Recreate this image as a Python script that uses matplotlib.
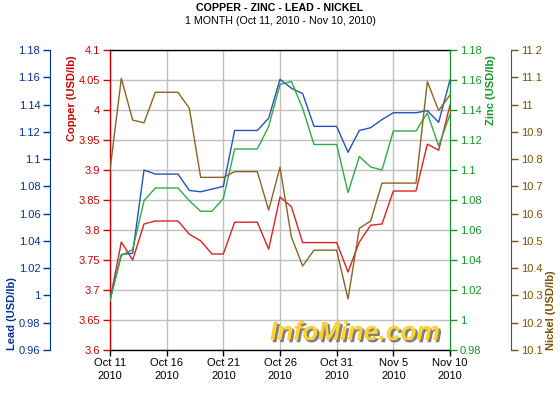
import numpy as np
import pandas as pd
import matplotlib
matplotlib.use('Agg')
import matplotlib.pyplot as plt
import matplotlib.patheffects as pe

plt.rcParams['font.family'] = ['Liberation Sans', 'DejaVu Sans']

# daily values Oct 11 .. Nov 10, 2010 (weekends carry the previous value)
dates = pd.date_range('2010-10-11', '2010-11-10', freq='D')
copper = [3.683, 3.78, 3.75, 3.81, 3.815, 3.815, 3.815, 3.793, 3.782, 3.76, 3.76,
          3.813, 3.813, 3.813, 3.768, 3.855, 3.839, 3.779, 3.779, 3.779, 3.779,
          3.73, 3.78, 3.808, 3.81, 3.865, 3.865, 3.865, 3.943, 3.933, 4.008]
lead = [0.997, 1.030, 1.031, 1.092, 1.089, 1.089, 1.089, 1.077, 1.076, 1.078, 1.080,
        1.121, 1.121, 1.121, 1.130, 1.1585, 1.152, 1.148, 1.124, 1.124, 1.124,
        1.105, 1.121, 1.123, 1.129, 1.134, 1.134, 1.134, 1.1355, 1.127, 1.158]
zinc = [1.013, 1.043, 1.047, 1.0795, 1.088, 1.088, 1.088, 1.0795, 1.0725, 1.0725, 1.081,
        1.114, 1.114, 1.114, 1.129, 1.157, 1.159, 1.141, 1.117, 1.117, 1.117,
        1.085, 1.109, 1.102, 1.100, 1.126, 1.126, 1.126, 1.138, 1.116, 1.137]
nickel = [10.76, 11.096, 10.943, 10.933, 11.045, 11.045, 11.045, 10.986, 10.733, 10.733, 10.733,
          10.754, 10.754, 10.754, 10.613, 10.77, 10.515, 10.408, 10.466, 10.466, 10.466,
          10.287, 10.546, 10.573, 10.712, 10.712, 10.712, 10.712, 11.084, 10.978, 11.035]

tick_dates = pd.to_datetime(['2010-10-11', '2010-10-16', '2010-10-21', '2010-10-26',
                             '2010-10-31', '2010-11-05', '2010-11-10'])
tick_labels = ['Oct 11\n2010', 'Oct 16\n2010', 'Oct 21\n2010', 'Oct 26\n2010',
               'Oct 31\n2010', 'Nov 5\n2010', 'Nov 10\n2010']

c_copper, c_copper_line = '#cc0000', '#dd2222'
c_lead, c_lead_line = '#003399', '#2255bb'
c_zinc, c_zinc_line = '#119922', '#33aa44'
c_nickel, c_nickel_line = '#7a5200', '#8a6420'

fs = 8

fig = plt.figure(figsize=(5.6, 4.0), dpi=100)
ax = fig.add_axes([110/560, 50/400, 340/560, 300/400])

def fmt(v):
    return '{:g}'.format(round(v, 3))

### copper (main axis)
ax.plot(dates, copper, color=c_copper_line, lw=1.0, zorder=4)
ax.set_ylim(3.6, 4.1)
cticks = np.round(np.arange(3.6, 4.1001, 0.05), 3)
ax.set_yticks(cticks)
ax.set_yticklabels([fmt(v) for v in cticks])
ax.set_xlim(dates[0], dates[-1])
ax.set_xticks(tick_dates)
ax.set_xticklabels(tick_labels, fontsize=fs, linespacing=1.35)
ax.tick_params(axis='y', colors=c_copper, labelsize=fs, length=5, width=1, pad=2)
ax.tick_params(axis='x', colors='black', labelsize=fs, length=4, width=1, pad=2)
ax.grid(True, color='#c0c0c0', lw=1)
ax.set_axisbelow(True)
ax.spines['left'].set_color(c_copper)
ax.spines['right'].set_visible(False)
for s in ax.spines.values():
    s.set_linewidth(1)

### lead (left, offset)
ax_lead = ax.twinx()
ax_lead.plot(dates, lead, color=c_lead_line, lw=1.0, zorder=3)
ax_lead.set_ylim(0.96, 1.18)
lticks = np.round(np.arange(0.96, 1.1801, 0.02), 3)
ax_lead.set_yticks(lticks)
ax_lead.set_yticklabels([fmt(v) for v in lticks])
ax_lead.yaxis.set_ticks_position('left')
ax_lead.spines['left'].set_position(('axes', (50 - 110) / 340))
ax_lead.spines['left'].set_visible(True)
ax_lead.spines['left'].set_color(c_lead)
for k in ['right', 'top', 'bottom']:
    ax_lead.spines[k].set_visible(False)
ax_lead.tick_params(axis='y', colors=c_lead, labelsize=fs, length=5, width=1, pad=2)

### zinc (right)
ax_zinc = ax.twinx()
ax_zinc.plot(dates, zinc, color=c_zinc_line, lw=1.0, zorder=2)
ax_zinc.set_ylim(0.98, 1.18)
zticks = np.round(np.arange(0.98, 1.1801, 0.02), 3)
ax_zinc.set_yticks(zticks)
ax_zinc.set_yticklabels([fmt(v) for v in zticks])
ax_zinc.spines['right'].set_color(c_zinc)
for k in ['left', 'top', 'bottom']:
    ax_zinc.spines[k].set_visible(False)
ax_zinc.tick_params(axis='y', colors=c_zinc, labelsize=fs, length=5, width=1, pad=2)

### nickel (right, offset)
ax_ni = ax.twinx()
ax_ni.plot(dates, nickel, color=c_nickel_line, lw=1.0, zorder=1)
ax_ni.set_ylim(10.1, 11.2)
nticks = np.round(np.arange(10.1, 11.2001, 0.1), 2)
ax_ni.set_yticks(nticks)
ax_ni.set_yticklabels([fmt(v) for v in nticks])
ax_ni.spines['right'].set_position(('axes', (511 - 110) / 340))
ax_ni.spines['right'].set_color(c_nickel)
for k in ['left', 'top', 'bottom']:
    ax_ni.spines[k].set_visible(False)
ax_ni.tick_params(axis='y', colors=c_nickel, labelsize=fs, length=5, width=1, pad=2)

### axis titles
fig.text(72/560, 1 - 55/400, 'Copper (USD/lb)', rotation=90, color=c_copper,
         fontsize=fs, fontweight='bold', ha='center', va='top')
fig.text(12/560, 50/400, 'Lead (USD/lb)', rotation=90, color=c_lead,
         fontsize=fs, fontweight='bold', ha='center', va='bottom')
fig.text(491/560, 1 - 55/400, 'Zinc (USD/lb)', rotation=90, color=c_zinc,
         fontsize=fs, fontweight='bold', ha='center', va='top')
fig.text(551/560, 50/400, 'Nickel (USD/lb)', rotation=90, color=c_nickel,
         fontsize=fs, fontweight='bold', ha='center', va='bottom')

### titles
fig.text(0.5, 1 - 8/400, 'COPPER - ZINC - LEAD - NICKEL', fontsize=7.7,
         fontweight='bold', ha='center', va='center')
fig.text(0.5, 1 - 21/400, '1 MONTH (Oct 11, 2010 - Nov 10, 2010)', fontsize=7.7,
         ha='center', va='center')

### watermark
fig.text(355/560, 1 - 333/400, 'InfoMine.com', fontsize=19, fontweight='bold',
         fontstyle='italic', color='#ffd12e', ha='center', va='center', zorder=10,
         path_effects=[pe.withSimplePatchShadow(offset=(1.6, -1.6), shadow_rgbFace='#707070', alpha=0.9)])

plt.savefig('out.png', dpi=100)
